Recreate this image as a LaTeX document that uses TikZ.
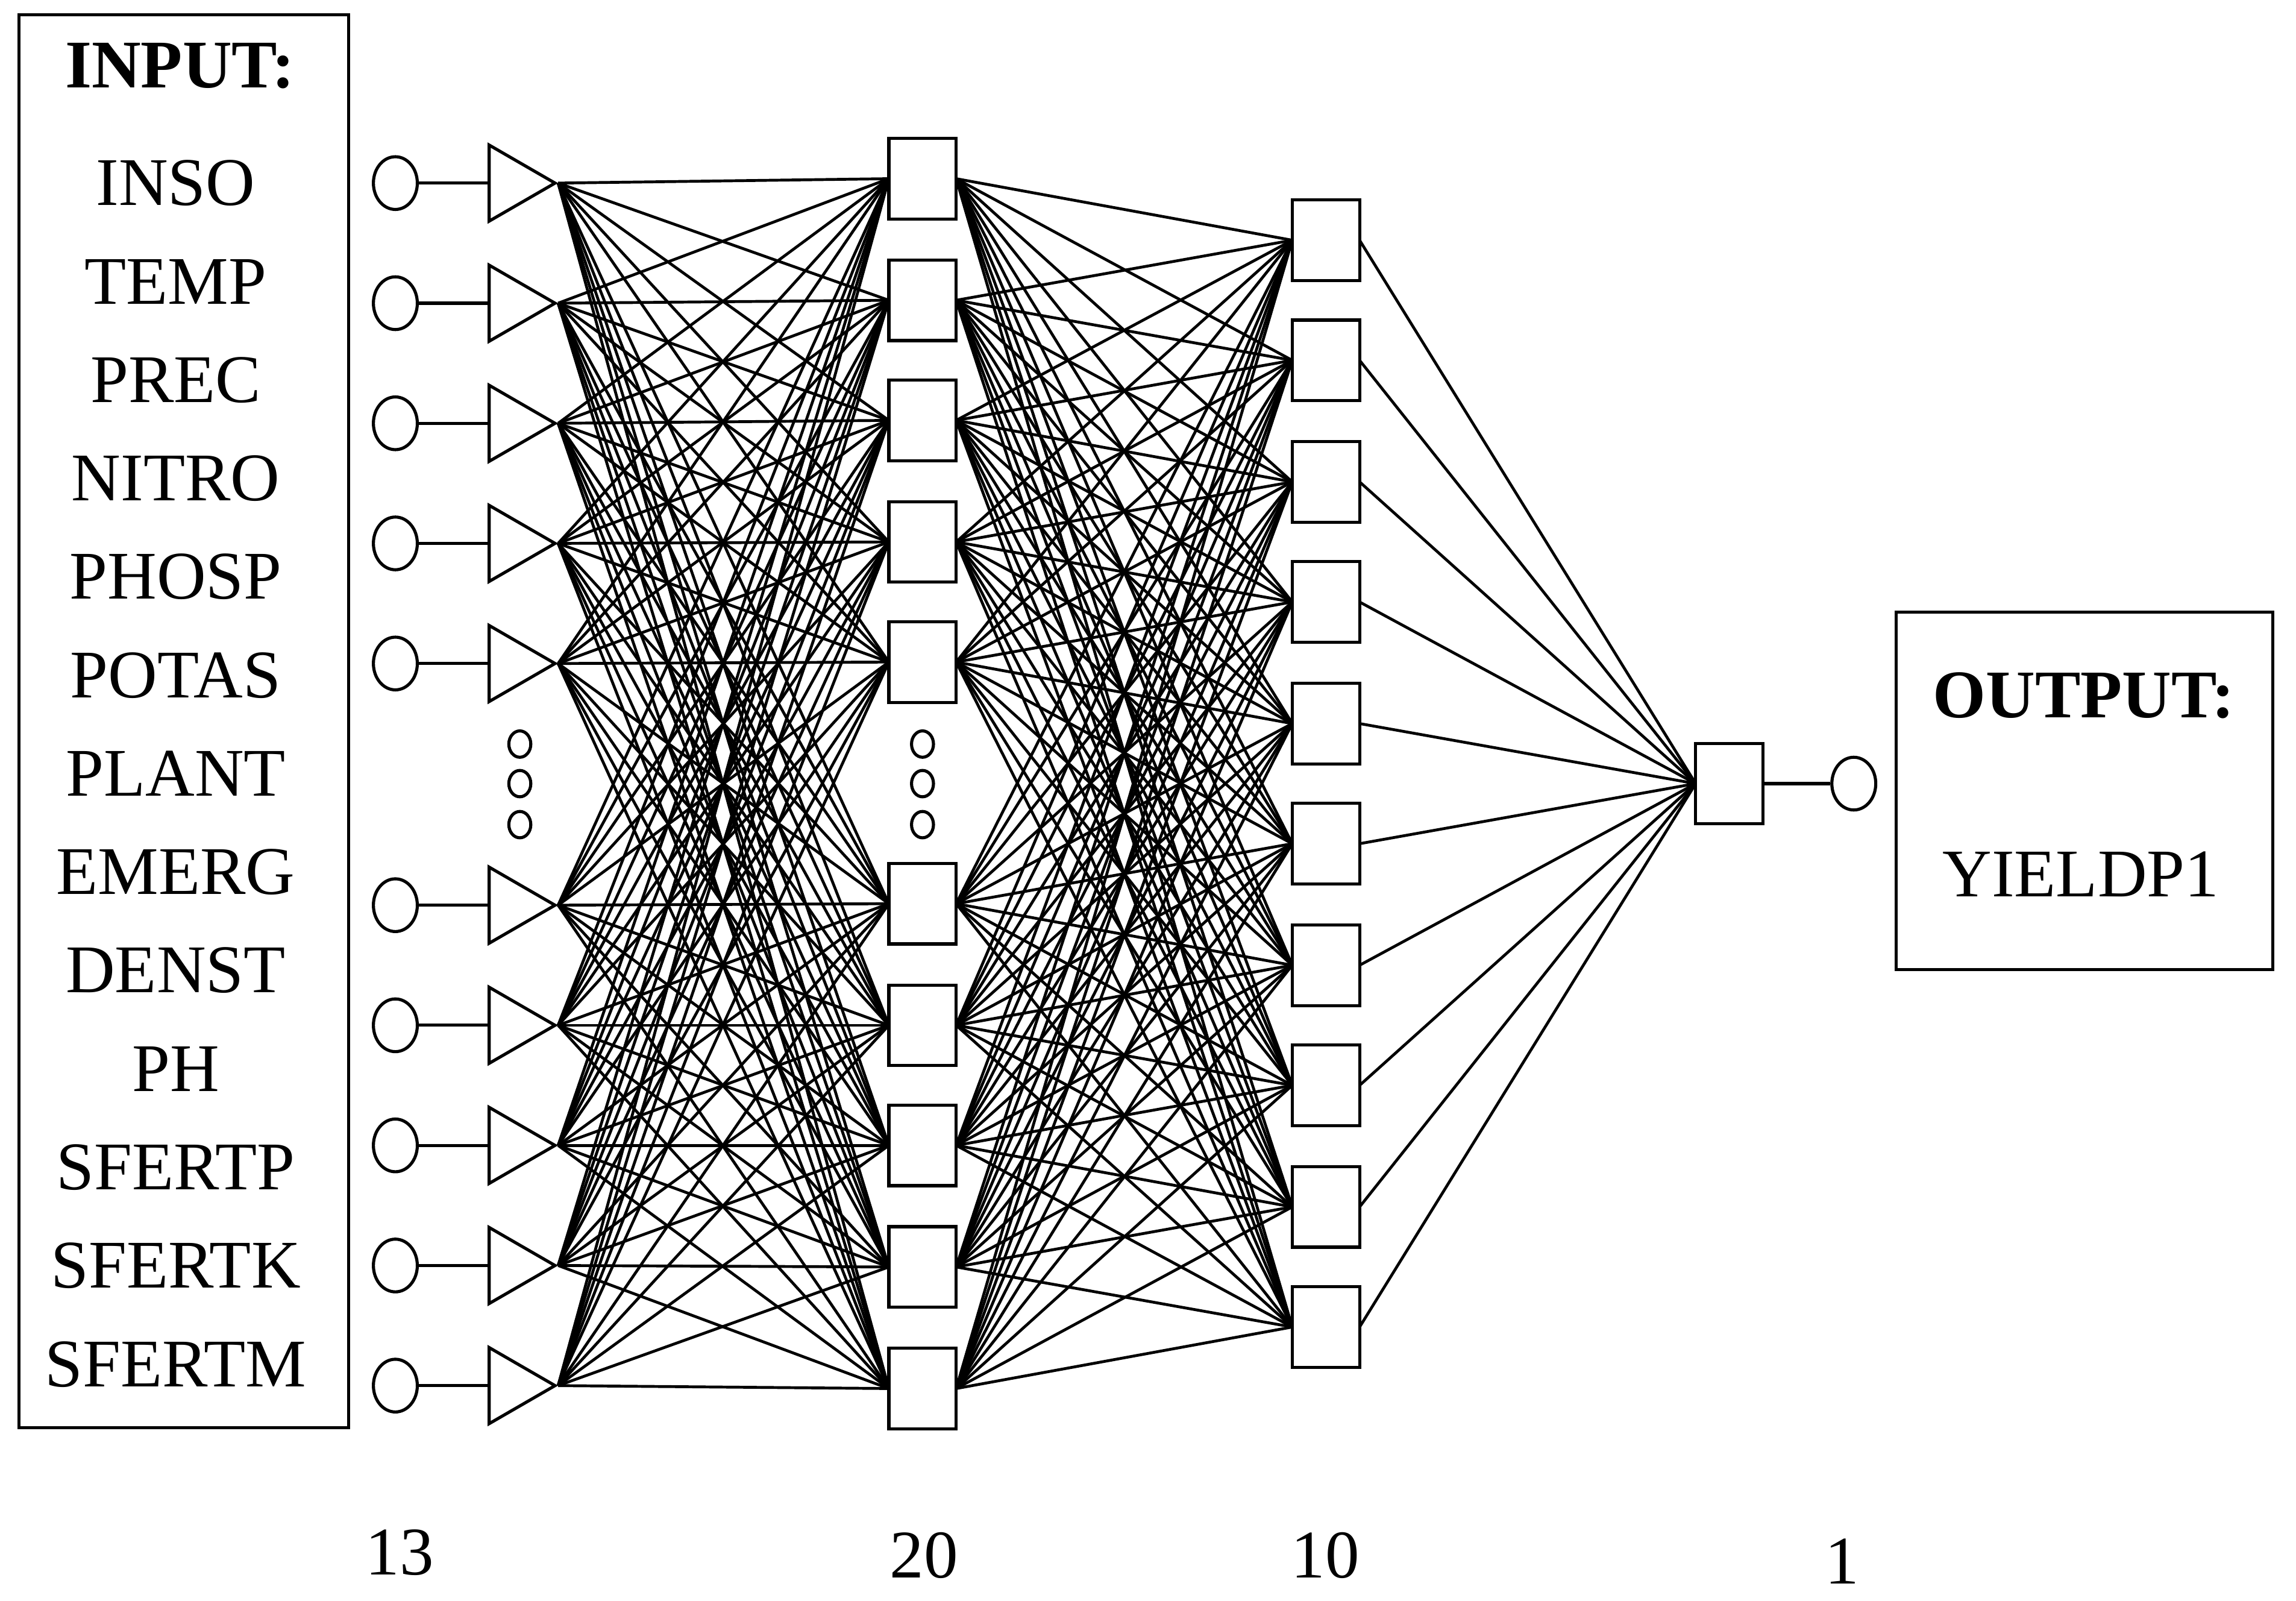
\documentclass[tikz,border=0pt]{standalone}
\usepackage{fontspec}
\setmainfont{Liberation Serif}
\begin{document}
\begin{tikzpicture}[x=0.02cm,y=-0.02cm,
 lbl/.style={font=\fontsize{26.5}{30}\selectfont,inner sep=0pt},
 tri/.style={draw,line width=1.2pt,isosceles triangle,isosceles triangle apex angle=60,minimum height=0.9cm,inner sep=0pt,anchor=west},
 sq/.style={draw,line width=1.2pt,fill=white,minimum width=0.92cm,minimum height=1.1cm,inner sep=0pt},
 ci/.style={draw,line width=1.2pt,ellipse,minimum width=0.6cm,minimum height=0.72cm,inner sep=0pt},
 dt/.style={draw,line width=1.2pt,ellipse,minimum width=0.3cm,minimum height=0.36cm,inner sep=0pt},
 con/.style={line width=1.1pt}]
\usetikzlibrary{shapes.geometric}
\useasboundingbox (0,0) rectangle (1568,1093);
% input box
\node[draw,line width=1.2pt,minimum width=4.5cm,minimum height=19.3cm] (ib) at (125.5,492.5) {};
\node[lbl,font=\fontsize{26.5}{30}\selectfont\bfseries] (it) at (123,45) {INPUT:};
\foreach \t [count=\i] in {INSO,TEMP,PREC,NITRO,PHOSP,POTAS,PLANT,EMERG,DENST,PH,SFERTP,SFERTK,SFERTM}
  \node[lbl] (l\i) at (120,125+67.2*\i-67.2) {\t};
% input circles and triangles
\foreach \y [count=\i] in {125,207,289,371,453,618,700,782,864,946}{
  \node[ci] (c\i) at (270,\y) {};
  \node[tri] (t\i) at (333,\y) {};
  \draw[line width=1.2pt] (c\i.east) -- (t\i.west);
}
\foreach \y [count=\i] in {508,535,563} \node[dt] (d\i) at (355,\y) {};
% layer coordinates
\foreach \y [count=\i] in {122,205,287,370,452,617,700,782,865,948} \coordinate (h\i) at (630,\y);
\foreach \y [count=\i] in {164,246,329,411,494,576,659,741,824,906} \coordinate (k\i) at (905.5,\y);
\coordinate (ow) at (1158,535);
\foreach \i in {1,...,10}\foreach \j in {1,...,10}
  \draw[con] (t\i.apex) -- ([xshift=-0.46cm]h\j);
\foreach \i in {1,...,10}\foreach \j in {1,...,10}
  \draw[con] ([xshift=0.46cm]h\i) -- ([xshift=-0.46cm]k\j);
\foreach \j in {1,...,10} \draw[con] ([xshift=0.46cm]k\j) -- (ow);
\foreach \i in {1,...,10} \node[sq] (H\i) at (h\i) {};
\foreach \i in {1,...,10} \node[sq] (K\i) at (k\i) {};
\foreach \y [count=\i] in {508,535,563} \node[dt,fill=white] (e\i) at (630,\y) {};
% output
\node[sq] (O) at (1181,535) {};
\node[ci] (oc) at (1266,535) {};
\draw[line width=1.2pt] (O.east) -- (oc.west);
\node[draw,line width=1.2pt,minimum width=5.14cm,minimum height=4.88cm] (ob) at (1423.5,540) {};
\node[lbl,font=\fontsize{26.5}{30}\selectfont\bfseries] (ot) at (1423,475) {OUTPUT:};
\node[lbl] (oy) at (1421,597) {YIELDP1};
% counts
\node[lbl] (n1) at (273,1060) {13};
\node[lbl] (n2) at (631,1062) {20};
\node[lbl] (n3) at (905,1062) {10};
\node[lbl] (n4) at (1258,1066) {1};
\end{tikzpicture}
\end{document}
